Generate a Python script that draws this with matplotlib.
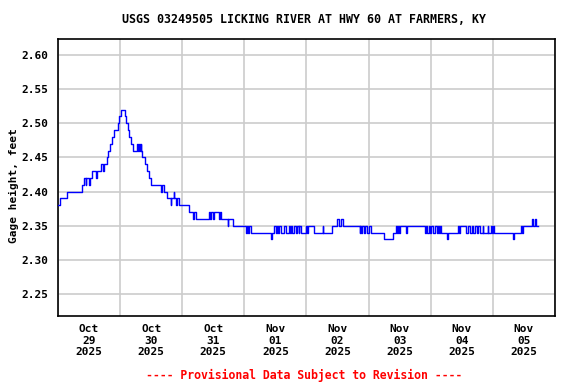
"""
USGS gage height hydrograph: Licking River at Hwy 60 at Farmers, KY.
Writes: out.png
"""
import matplotlib
matplotlib.use("Agg")
import matplotlib.pyplot as plt
from matplotlib.ticker import MultipleLocator, FixedLocator, NullFormatter

BLUE = "#0000ff"
GRID = "#cccccc"
RED = "#ff0000"
FONT = "DejaVu Sans Mono"

TITLE = "USGS 03249505 LICKING RIVER AT HWY 60 AT FARMERS, KY"
DAY_LABELS = ["Oct\n29\n2025", "Oct\n30\n2025", "Oct\n31\n2025", "Nov\n01\n2025",
              "Nov\n02\n2025", "Nov\n03\n2025", "Nov\n04\n2025", "Nov\n05\n2025"]
Y_TICKS = [2.25, 2.30, 2.35, 2.40, 2.45, 2.50, 2.55, 2.60]

# change points: hours since Oct 29 00:00, gage height (ft) held until next point
hours = [
    0.0, 0.75, 3.5, 9.25, 10.0, 10.75, 11.0, 12.0, 12.25, 13.25,
    14.5, 15.0, 16.5, 17.5, 17.75, 18.75, 19.5, 20.25, 21.0, 21.75,
    23.0, 23.5, 24.5, 25.75, 26.25, 27.0, 27.5, 28.25, 29.0, 30.5,
    31.0, 31.25, 31.75, 32.0, 32.25, 32.5, 33.5, 34.25, 35.0, 36.0,
    39.75, 40.0, 41.0, 42.25, 43.5, 43.75, 44.75, 45.0, 45.75, 46.0,
    46.75, 50.75, 52.25, 52.5, 53.25, 58.25, 58.75, 59.0, 60.0, 60.25,
    62.25, 62.5, 63.0, 65.5, 65.75, 67.5, 72.75, 73.0, 73.5, 73.75,
    74.5, 82.25, 82.5, 83.5, 84.25, 84.5, 85.0, 85.25, 86.0, 87.5,
    88.0, 89.25, 89.75, 90.0, 90.5, 91.0, 92.0, 92.5, 93.0, 93.25,
    94.0, 95.75, 96.25, 96.5, 98.75, 102.25, 102.5, 105.75, 107.75, 108.5,
    109.25, 110.0, 116.5, 116.75, 117.25, 117.5, 118.25, 118.75, 119.5, 120.0,
    120.75, 126.0, 129.25, 130.5, 131.0, 131.25, 131.75, 132.25, 134.5, 134.75,
    141.75, 142.0, 142.5, 143.25, 143.75, 144.25, 145.0, 145.5, 146.25, 146.75,
    147.25, 147.5, 148.0, 150.25, 150.5, 154.5, 155.0, 155.25, 157.75, 158.5,
    159.0, 159.75, 160.25, 161.25, 161.75, 162.25, 163.0, 164.0, 164.25, 166.0,
    166.25, 167.25, 167.75, 168.0, 168.5, 175.75, 176.0, 178.75, 179.25, 179.75,
    183.0, 183.5, 184.25, 184.75, 185.25,
]
gage = [
    2.38, 2.39, 2.40, 2.41, 2.42, 2.41, 2.42, 2.41, 2.42, 2.43,
    2.42, 2.43, 2.44, 2.43, 2.44, 2.45, 2.46, 2.47, 2.48, 2.49,
    2.50, 2.51, 2.52, 2.51, 2.50, 2.49, 2.48, 2.47, 2.46, 2.47,
    2.46, 2.47, 2.46, 2.47, 2.46, 2.45, 2.44, 2.43, 2.42, 2.41,
    2.40, 2.41, 2.40, 2.39, 2.38, 2.39, 2.40, 2.39, 2.38, 2.39,
    2.38, 2.37, 2.36, 2.37, 2.36, 2.37, 2.36, 2.37, 2.36, 2.37,
    2.36, 2.37, 2.36, 2.35, 2.36, 2.35, 2.34, 2.35, 2.34, 2.35,
    2.34, 2.33, 2.34, 2.35, 2.34, 2.35, 2.34, 2.35, 2.34, 2.35,
    2.34, 2.35, 2.34, 2.35, 2.34, 2.35, 2.34, 2.35, 2.34, 2.35,
    2.34, 2.35, 2.34, 2.35, 2.34, 2.35, 2.34, 2.35, 2.36, 2.35,
    2.36, 2.35, 2.34, 2.35, 2.34, 2.35, 2.34, 2.35, 2.34, 2.35,
    2.34, 2.33, 2.34, 2.35, 2.34, 2.35, 2.34, 2.35, 2.34, 2.35,
    2.34, 2.35, 2.34, 2.35, 2.34, 2.35, 2.34, 2.35, 2.34, 2.35,
    2.34, 2.35, 2.34, 2.33, 2.34, 2.35, 2.34, 2.35, 2.34, 2.35,
    2.34, 2.35, 2.34, 2.35, 2.34, 2.35, 2.34, 2.35, 2.34, 2.35,
    2.34, 2.35, 2.34, 2.35, 2.34, 2.33, 2.34, 2.35, 2.34, 2.35,
    2.36, 2.35, 2.36, 2.35, 2.35,
]


def main():
    fig = plt.figure(figsize=(5.76, 3.84), dpi=100, facecolor="white")
    ax = fig.add_axes([0.1007, 0.177, 0.8628, 0.7214])

    ax.plot(hours, gage, drawstyle="steps-post", color=BLUE, lw=1.0, zorder=3)

    ax.set_xlim(0, 192)
    ax.set_ylim(2.2177, 2.6235)

    # grid at midnight, labels at noon
    ax.xaxis.set_major_locator(MultipleLocator(24))
    ax.xaxis.set_major_formatter(NullFormatter())
    ax.xaxis.set_minor_locator(FixedLocator([12 + 24 * i for i in range(len(DAY_LABELS))]))
    ax.set_xticklabels(DAY_LABELS, minor=True)
    ax.yaxis.set_major_locator(FixedLocator(Y_TICKS))
    ax.set_yticklabels([f"{v:.2f}" for v in Y_TICKS])

    ax.tick_params(which="both", length=0)
    ax.tick_params(axis="y", pad=7)
    ax.tick_params(axis="x", which="minor", pad=6)
    for lbl in ax.get_yticklabels() + ax.get_xticklabels(minor=True):
        lbl.set_fontfamily(FONT)
        lbl.set_fontweight("bold")
        lbl.set_fontsize(8)
        lbl.set_linespacing(1.15)

    ax.grid(True, which="major", color=GRID, lw=1.2, zorder=0)
    for sp in ax.spines.values():
        sp.set_color("black")
        sp.set_linewidth(1.2)

    ax.set_ylabel("Gage height, feet", fontfamily=FONT, fontweight="bold", fontsize=8)
    ax.yaxis.set_label_coords(-0.079, 0.47)
    fig.text(0.528, 0.948, TITLE, ha="center", va="center", fontfamily=FONT,
             fontweight="bold", fontsize=8.4)
    fig.text(0.528, 0.023, "---- Provisional Data Subject to Revision ----",
             ha="center", va="center", fontfamily=FONT, fontweight="bold",
             fontsize=8.3, color=RED)

    fig.savefig("out.png", dpi=100, facecolor="white")
    plt.close(fig)


if __name__ == "__main__":
    main()
